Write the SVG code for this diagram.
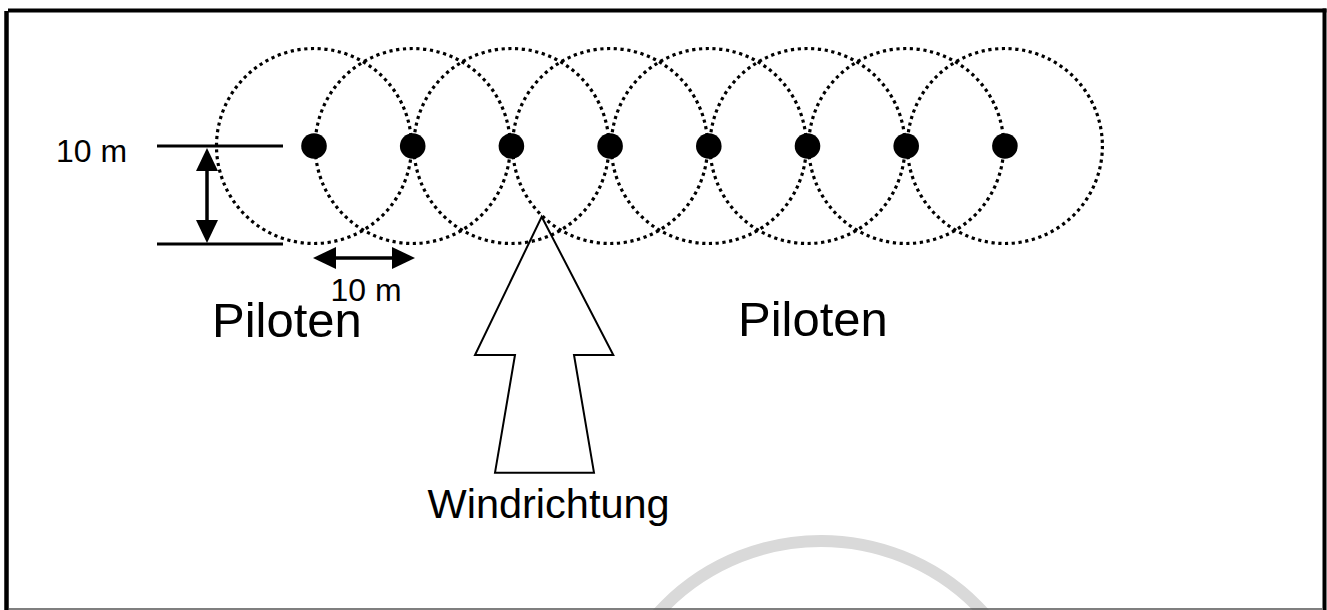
<svg xmlns="http://www.w3.org/2000/svg" width="1327" height="610" viewBox="0 0 1327 610">
  <defs>
    <style>
      .frame { stroke: #000; stroke-width: 4; fill: none; }
      .range { fill: none; stroke: #000; stroke-width: 3.2; stroke-dasharray: 3.2 3.6; }
      .pilot { fill: #000; }
      .dim { stroke: #000; stroke-width: 3.5; fill: none; }
      .label { font-family: "Liberation Sans", Arial, sans-serif; fill: #000; }
    </style>
    <marker id="arrowhead" viewBox="0 0 23 22" refX="19" refY="11" markerWidth="23" markerHeight="22" markerUnits="userSpaceOnUse" orient="auto-start-reverse">
      <path d="M0,0 L23,11 L0,22 z" fill="#000"/>
    </marker>
  </defs>

  <rect width="1327" height="610" fill="#fff"/>

  <!-- faint watermark ring -->
  <circle cx="821" cy="761" r="220" fill="none" stroke="#d9d9d9" stroke-width="12"/>

  <!-- outer frame -->
  <g id="frame">
    <line class="frame" x1="8" y1="10.5" x2="1326.5" y2="10.5"/>
    <line class="frame" x1="6.5" y1="11" x2="6.5" y2="610" style="stroke-width:4.5"/>
    <line class="frame" x1="1324.5" y1="8.5" x2="1324.5" y2="610"/>
    <line x1="9" y1="609" x2="1322" y2="609" stroke="#555" stroke-width="1.5"/>
  </g>

  <!-- 10 m safety radius around each pilot -->
  <g id="ranges">
    <circle class="range" cx="314" cy="146" r="97.5"/>
    <circle class="range" cx="412.7" cy="146" r="97.5"/>
    <circle class="range" cx="511.4" cy="146" r="97.5"/>
    <circle class="range" cx="610.1" cy="146" r="97.5"/>
    <circle class="range" cx="708.8" cy="146" r="97.5"/>
    <circle class="range" cx="807.5" cy="146" r="97.5"/>
    <circle class="range" cx="906.2" cy="146" r="97.5"/>
    <circle class="range" cx="1004.9" cy="146" r="97.5"/>
  </g>

  <!-- pilots in a row -->
  <g id="pilot-1"><circle class="pilot" cx="314" cy="146" r="12.8"/></g>
  <g id="pilot-2"><circle class="pilot" cx="412.7" cy="146" r="12.8"/></g>
  <g id="pilot-3"><circle class="pilot" cx="511.4" cy="146" r="12.8"/></g>
  <g id="pilot-4"><circle class="pilot" cx="610.1" cy="146" r="12.8"/></g>
  <g id="pilot-5"><circle class="pilot" cx="708.8" cy="146" r="12.8"/></g>
  <g id="pilot-6"><circle class="pilot" cx="807.5" cy="146" r="12.8"/></g>
  <g id="pilot-7"><circle class="pilot" cx="906.2" cy="146" r="12.8"/></g>
  <g id="pilot-8"><circle class="pilot" cx="1004.9" cy="146" r="12.8"/></g>

  <!-- dimension lines -->
  <g id="connectors">
    <line x1="157" y1="146" x2="283" y2="146" stroke="#000" stroke-width="3"/>
    <line x1="157" y1="244" x2="283" y2="244" stroke="#000" stroke-width="3"/>
    <line class="dim" x1="207" y1="152" x2="207" y2="239" marker-start="url(#arrowhead)" marker-end="url(#arrowhead)"/>
    <line class="dim" x1="317" y1="258" x2="411" y2="258" marker-start="url(#arrowhead)" marker-end="url(#arrowhead)"/>
  </g>

  <g id="dim-vertical-label">
    <text class="label" x="56" y="162" font-size="31" textLength="71" lengthAdjust="spacingAndGlyphs">10 m</text>
  </g>
  <g id="dim-horizontal-label">
    <text class="label" x="330.5" y="301" font-size="31" textLength="71" lengthAdjust="spacingAndGlyphs">10 m</text>
  </g>

  <g id="pilots-left-label">
    <text class="label" x="212" y="336.5" font-size="49">Piloten</text>
  </g>
  <g id="pilots-right-label">
    <text class="label" x="738" y="336" font-size="49">Piloten</text>
  </g>

  <!-- wind direction arrow -->
  <g id="wind">
    <polygon points="541.7,216.7 613.3,355 574,355 594,472.7 495,472.7 515,355 475,355" fill="none" stroke="#000" stroke-width="2"/>
    <text class="label" x="427.5" y="518" font-size="41.5">Windrichtung</text>
  </g>
</svg>
